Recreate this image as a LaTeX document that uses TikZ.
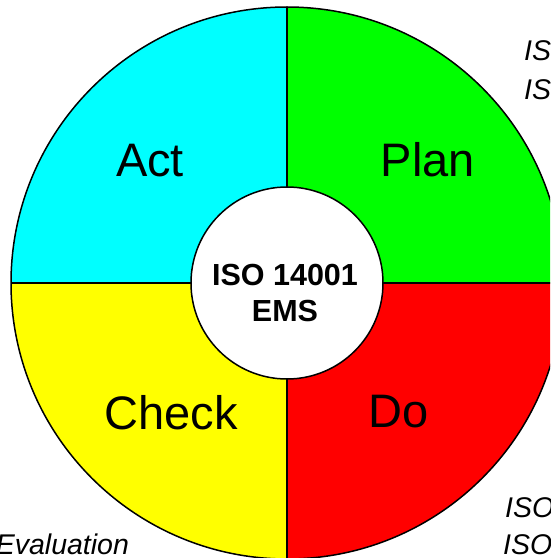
\documentclass[tikz,border=0pt]{standalone}
\usepackage{fontspec}
\setmainfont{Liberation Sans}
\definecolor{planfill}{RGB}{0,255,0}
\definecolor{actfill}{RGB}{0,255,255}
\definecolor{checkfill}{RGB}{255,255,0}
\definecolor{dofill}{RGB}{255,0,0}

\tikzset{
  phase/.style={font=\fontsize{47}{56}\selectfont, anchor=base},
  note/.style={font=\fontsize{28.5}{34}\selectfont\itshape, anchor=base west},
}

\begin{document}
\begin{tikzpicture}[x=1pt,y=1pt,line width=1.5pt]
  \useasboundingbox (0,0) rectangle (550,558);
  \clip (0,0) rectangle (550,558);
  \coordinate (ctr) at (287,275);
  \fill[planfill] (ctr) -- ++(0:276) arc (0:90:276) -- cycle;
  \fill[actfill] (ctr) -- ++(90:276) arc (90:180:276) -- cycle;
  \fill[checkfill] (ctr) -- ++(180:276) arc (180:270:276) -- cycle;
  \fill[dofill] (ctr) -- ++(270:276) arc (270:360:276) -- cycle;
  \draw (ctr) circle (276);
  \draw (ctr) ++(90:276) -- ++(0,-552);
  \draw (ctr) ++(180:276) -- ++(552,0);
  \node[circle, draw, fill=white, minimum size=192pt, inner sep=0pt] (hub) at (ctr) {};
  \node[font=\fontsize{30.5}{36}\selectfont\bfseries, align=center] (ems) at (285,265) {ISO 14001\\EMS};
  \node[phase] (act) at (150,381) {Act};
  \node[phase] (plan) at (428,381) {Plan};
  \node[phase] (check) at (171,128) {Check};
  \node[phase] (do) at (399,130) {Do};
  \node[note] (plannote1) at (520,497) {ISO};
  \node[note] (plannote2) at (520,458) {ISO};
  \node[note] (donote1) at (501,40) {ISO};
  \node[note] (donote2) at (499,3) {ISO};
  \node[note, anchor=base east] (checknote) at (133,3) {Evaluation};
\end{tikzpicture}
\end{document}
